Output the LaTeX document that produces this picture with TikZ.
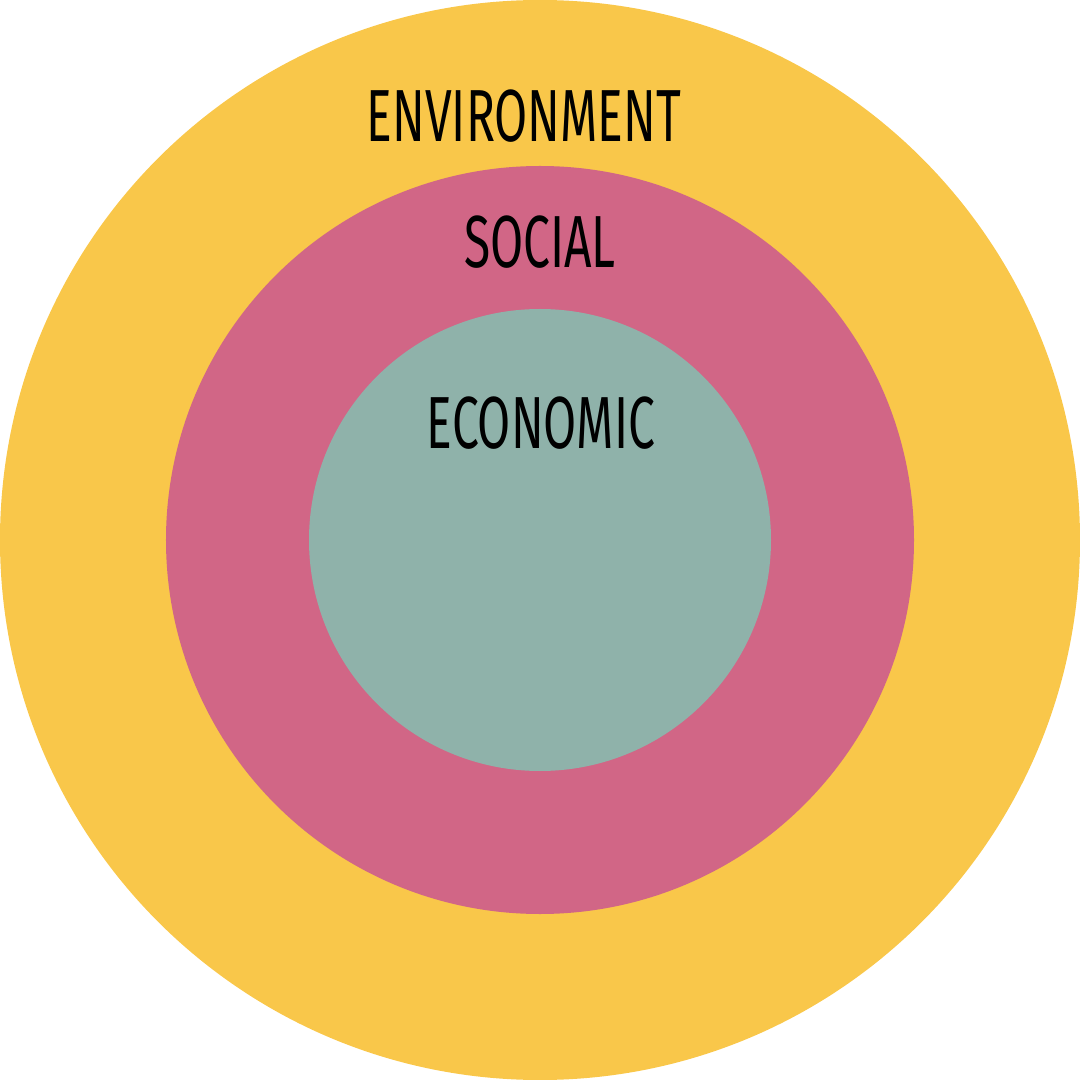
\documentclass[tikz,border=0pt]{standalone}
\usepackage{fontspec}
\setmainfont{Fira Sans}
\usepackage{tikz}
\definecolor{envyellow}{HTML}{F9C74A}
\definecolor{socpink}{HTML}{D16686}
\definecolor{ecogreen}{HTML}{8FB2AA}
\tikzset{
	ringlabel/.style={inner sep=0pt, xscale=0.65, font=\fontsize{21}{21}\selectfont}
}

\begin{document}
\begin{tikzpicture}
			%%%%% START %%%%%
			\useasboundingbox (-5.4, -5.4) rectangle (5.4, 5.4);
			
			\fill[envyellow] (0, 0) circle (5.4);
			\fill[socpink] (0, 0) circle (3.74);
			\fill[ecogreen] (0, 0) circle (2.31);
			
			\node[ringlabel] (env) at (-0.16, 4.24) {ENVIRONMENT};
			\node[ringlabel] (soc) at (0, 2.98) {SOCIAL};
			\node[ringlabel] (eco) at (0.01, 1.17) {ECONOMIC};
			
			%%%%% END %%%%%
\end{tikzpicture}
\end{document}
